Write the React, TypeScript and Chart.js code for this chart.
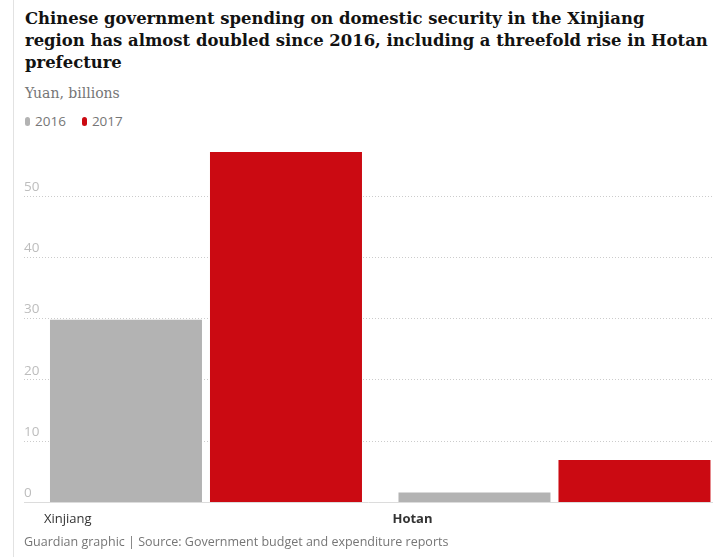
import React, { useEffect, useRef } from 'react';
import { Chart, registerables } from 'chart.js';

Chart.register(...registerables);

const categories = ['Xinjiang', 'Hotan'];
const years = ['2016', '2017'];
const spending2016 = [29.8, 1.6];
const spending2017 = [57.2, 6.9];
const yTicks = [0, 10, 20, 30, 40, 50];
const seriesColors = ['#b3b3b3', '#cb0a12'];

const SANS = '"Open Sans", "Noto Sans", sans-serif';
const SERIF = '"DejaVu Serif", serif';

export default function App() {
  const canvasRef = useRef<HTMLCanvasElement | null>(null);

  useEffect(() => {
    const canvas = canvasRef.current;
    if (!canvas) return;
    const series = [spending2016, spending2017];
    const chart = new Chart(canvas, {
      type: 'bar',
      data: {
        labels: categories.map((_, i) => i),
        datasets: years.map((y, i) => ({
          label: y,
          data: series[i],
          backgroundColor: seriesColors[i],
          borderWidth: 0,
          categoryPercentage: 0.9182,
          barPercentage: 0.95,
        })),
      },
      options: {
        animation: false,
        responsive: true,
        maintainAspectRatio: false,
        layout: { padding: { left: 24, right: 14, top: 20, bottom: 5 } },
        plugins: {
          legend: { display: false },
          tooltip: { enabled: false },
        },
        scales: {
          x: {
            type: 'linear',
            offset: false,
            min: -0.5222,
            max: 1.452,
            grid: { display: false, drawTicks: false },
            border: { display: true, color: '#dcdcdc', width: 1 },
            afterBuildTicks: (s: any) => {
              s.ticks = categories.map((_, i) => ({ value: i }));
            },
            ticks: {
              align: 'start',
              labelOffset: -162,
              padding: 9,
              color: '#333333',
              maxRotation: 0,
              autoSkip: false,
              font: (ctx: any) => ({
                family: SANS,
                size: 13,
                weight: ctx.index === 1 ? 'bold' : 'normal',
              }),
              callback: (v: any) => categories[v as number],
            },
          },
          y: {
            min: 0,
            max: 58,
            afterBuildTicks: (s: any) => {
              s.ticks = yTicks.map((v) => ({ value: v }));
            },
            grid: {
              drawTicks: false,
              lineWidth: 1,
              color: (ctx: any) => (ctx.tick && ctx.tick.value === 0 ? 'rgba(0,0,0,0)' : '#cccccc'),
            },
            border: { display: false, dash: [1, 2] },
            ticks: {
              mirror: true,
              padding: 0,
              labelOffset: -9,
              color: '#bdbdbd',
              font: { family: SANS, size: 13.5 },
            },
          },
        },
      } as any,
    });
    return () => chart.destroy();
  }, []);

  return (
    <div
      style={{
        position: 'fixed',
        left: 0,
        top: 0,
        width: 726,
        height: 557,
        background: '#ffffff',
        overflow: 'hidden',
      }}
    >
      <div style={{ position: 'absolute', left: 13, top: 0, width: 1, height: 557, background: '#e2e2e2' }} />
      <div
        style={{
          position: 'absolute',
          left: 25,
          top: 7.5,
          font: `bold 16.45px/22px ${SERIF}`,
          color: '#121212',
          whiteSpace: 'nowrap',
        }}
      >
        Chinese government spending on domestic security in the Xinjiang
        <br />
        region has almost doubled since 2016, including a threefold rise in Hotan
        <br />
        prefecture
      </div>
      <div
        style={{
          position: 'absolute',
          left: 25,
          top: 84.5,
          font: `14px/16px ${SERIF}`,
          color: '#767676',
          whiteSpace: 'nowrap',
        }}
      >
        Yuan, billions
      </div>
      <div
        style={{
          position: 'absolute',
          left: 25,
          top: 114,
          display: 'flex',
          alignItems: 'center',
          font: `13.5px/14px ${SANS}`,
          color: '#767676',
          whiteSpace: 'nowrap',
        }}
      >
        {years.map((y, i) => (
          <div key={y} style={{ display: 'flex', alignItems: 'center', marginRight: 16 }}>
            <span
              style={{
                display: 'inline-block',
                width: 5,
                height: 9,
                borderRadius: 2.5,
                background: seriesColors[i],
                marginRight: 5,
              }}
            />
            <span>{y}</span>
          </div>
        ))}
      </div>
      <div style={{ position: 'absolute', left: 0, top: 127, width: 726, height: 414 }}>
        <canvas ref={canvasRef} />
      </div>
      <div
        style={{
          position: 'absolute',
          left: 24,
          top: 535,
          font: `12.5px/14px ${SANS}`,
          color: '#767676',
          whiteSpace: 'nowrap',
        }}
      >
        Guardian graphic | Source: Government budget and expenditure reports
      </div>
    </div>
  );
}
